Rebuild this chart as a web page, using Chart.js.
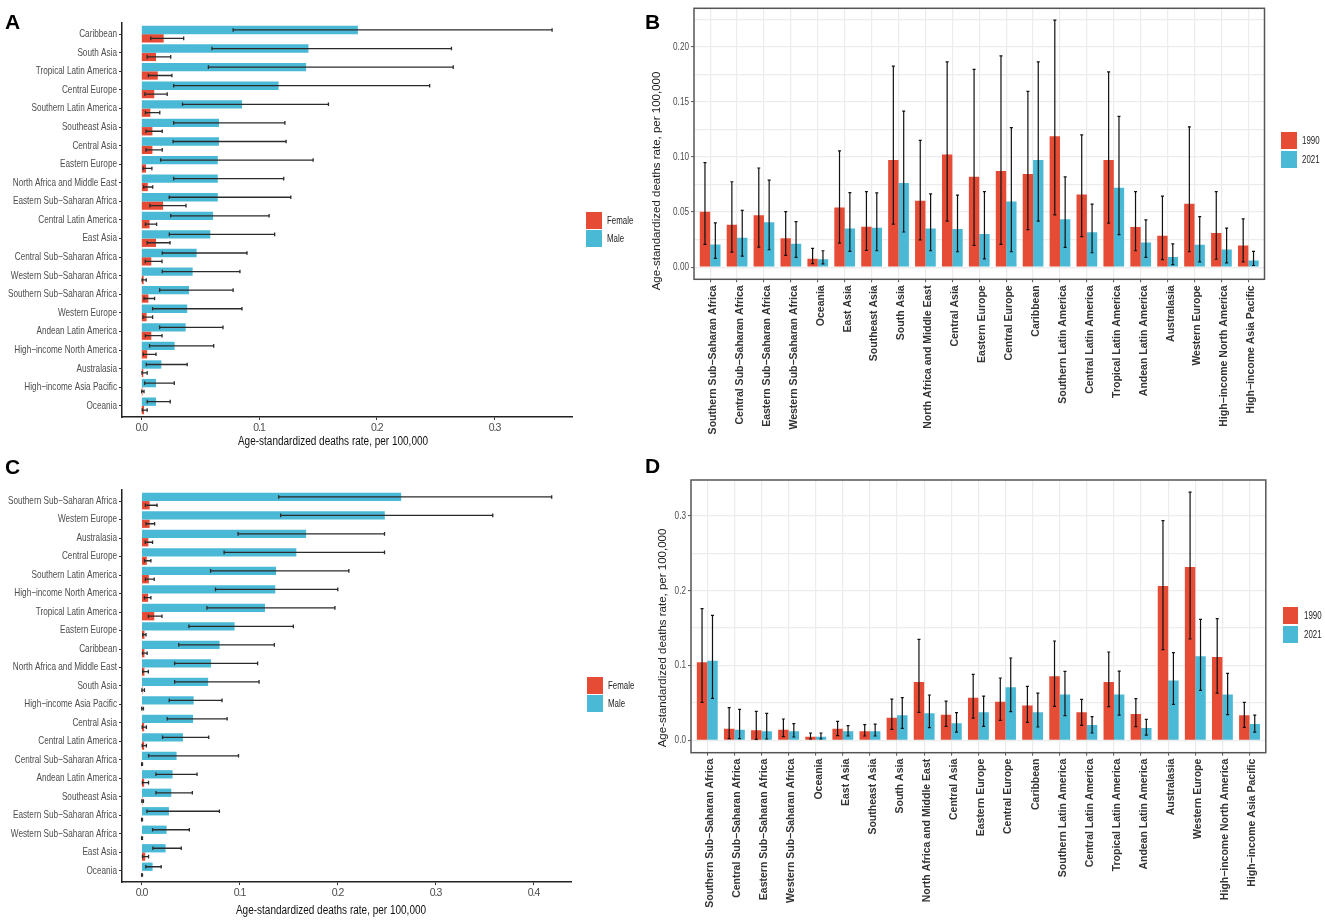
<!DOCTYPE html>
<html>
<head>
<meta charset="utf-8">
<title>Age-standardized deaths rate</title>
<script src="https://cdn.jsdelivr.net/npm/chart.js@4"></script>
<style>
  html, body { margin: 0; padding: 0; background: #fff; }
  #page { position: relative; width: 1325px; height: 921px; overflow: hidden; font-family: 'Liberation Sans', Arial, sans-serif; }
  canvas { position: absolute; }
  .letter { position: absolute; font-weight: 700; font-size: 21px; line-height: 21px; color: #000; }
  .title { position: absolute; white-space: nowrap; color: #111; }
  .title.h { font-size: 12.5px; transform: translate(-50%, -50%) scaleX(0.8); }
  .title.v { font-size: 11.5px; transform: translate(-50%, -50%) rotate(-90deg); color: #222; }
  .swatch { position: absolute; width: 15.5px; height: 16.5px; }
  .key { position: absolute; font-size: 10.5px; color: #222; line-height: 12px; transform: scaleX(0.75); transform-origin: left center; }
</style>
</head>
<body>
<div id="page">
  <canvas id="chartA" style="left:0;top:0"></canvas>
  <canvas id="chartB" style="left:640px;top:0"></canvas>
  <canvas id="chartC" style="left:0;top:470px"></canvas>
  <canvas id="chartD" style="left:640px;top:470px"></canvas>
</div>
<script>
// ---- data ----
const RED = '#E64B35';
const BLUE = '#4AB9D6';

// panel A
const regionsA = ['Caribbean', 'South Asia', 'Tropical Latin America', 'Central Europe', 'Southern Latin America', 'Southeast Asia', 'Central Asia', 'Eastern Europe', 'North Africa and Middle East', 'Eastern Sub-Saharan Africa', 'Central Latin America', 'East Asia', 'Central Sub-Saharan Africa', 'Western Sub-Saharan Africa', 'Southern Sub-Saharan Africa', 'Western Europe', 'Andean Latin America', 'High-income North America', 'Australasia', 'High-income Asia Pacific', 'Oceania'];
const maleA = [.184, .142, .140, .1166, .0856, .066, .066, .065, .065, .065, .061, .0586, .047, .0436, .0405, .039, .0377, .0283, .017, .0125, .0125];
const maleLoA = [.078, .060, .057, .0275, .035, .0275, .027, .0164, .0275, .0237, .025, .0238, .0178, .0178, .0156, .0096, .0156, .007, .0042, .0028, .005];
const maleHiA = [.349, .2635, .265, .245, .159, .122, .123, .146, .121, .127, .1086, .1133, .0898, .0838, .078, .0855, .0694, .0615, .039, .028, .0246];
const femaleA = [.019, .0125, .014, .011, .0077, .0094, .0094, .004, .0055, .0185, .007, .0125, .0085, .002, .006, .0045, .0085, .005, .0017, .001, .0023];
const femaleLoA = [.008, .005, .006, .003, .0035, .004, .004, .0015, .002, .0073, .0035, .005, .0034, .0007, .0023, .0014, .0034, .0017, .0006, .0003, .0008];
const femaleHiA = [.036, .025, .026, .022, .0157, .0178, .0178, .009, .0097, .038, .013, .0244, .0176, .0042, .0113, .0096, .0176, .0125, .005, .0023, .005];

// panel C
const regionsC = ['Southern Sub-Saharan Africa', 'Western Europe', 'Australasia', 'Central Europe', 'Southern Latin America', 'High-income North America', 'Tropical Latin America', 'Eastern Europe', 'Caribbean', 'North Africa and Middle East', 'South Asia', 'High-income Asia Pacific', 'Central Asia', 'Central Latin America', 'Central Sub-Saharan Africa', 'Andean Latin America', 'Southeast Asia', 'Eastern Sub-Saharan Africa', 'Western Sub-Saharan Africa', 'East Asia', 'Oceania'];
const maleC = [.265, .2483, .168, .158, .1373, .1365, .126, .095, .0797, .071, .068, .0532, .0526, .0423, .0358, .0317, .0304, .028, .0256, .0246, .0113];
const maleLoC = [.140, .142, .0985, .0843, .0705, .0755, .0668, .0484, .038, .0338, .0338, .0283, .0263, .0215, .0072, .0147, .0147, .0055, .0113, .0116, .0044];
const maleHiC = [.4186, .3585, .248, .248, .2116, .2003, .1974, .155, .1356, .1185, .12, .0822, .0874, .0686, .099, .0567, .0519, .0795, .0488, .0406, .0201];
const femaleC = [.0083, .0083, .007, .0054, .0075, .0067, .013, .003, .003, .003, .001, .0007, .0027, .0027, .0004, .0027, .001, .0004, .0004, .0038, .0004];
const femaleLoC = [.004, .0046, .0038, .003, .004, .003, .007, .0012, .001, .0012, .0004, .0002, .0007, .0007, .0001, .0009, .0003, .0001, .0001, .001, .0001];
const femaleHiC = [.0159, .0134, .0113, .0096, .013, .0096, .0209, .0046, .0058, .007, .003, .002, .005, .005, .001, .0072, .002, .001, .001, .0072, .001];

// panels B and D share one region order
const regionsBD = ['Southern Sub-Saharan Africa', 'Central Sub-Saharan Africa', 'Eastern Sub-Saharan Africa', 'Western Sub-Saharan Africa', 'Oceania', 'East Asia', 'Southeast Asia', 'South Asia', 'North Africa and Middle East', 'Central Asia', 'Eastern Europe', 'Central Europe', 'Caribbean', 'Southern Latin America', 'Central Latin America', 'Tropical Latin America', 'Andean Latin America', 'Australasia', 'Western Europe', 'High-income North America', 'High-income Asia Pacific'];

const y1990B = [.0504, .0385, .0471, .0262, .0077, .0542, .0367, .0972, .0602, .1022, .082, .0873, .0846, .1189, .0659, .0972, .0364, .0286, .0575, .031, .0197];
const lo1990B = [.0206, .0137, .0182, .0107, .0033, .0218, .0152, .039, .0247, .0417, .0197, .0206, .034, .0474, .0277, .04, .0149, .0069, .014, .0072, .0048];
const hi1990B = [.0948, .0775, .09, .0504, .017, .1055, .0686, .1824, .115, .1863, .1794, .1917, .1595, .2241, .1201, .1773, .0686, .0644, .1273, .0686, .0438];
const y2021B = [.0206, .0268, .0408, .0212, .0072, .0352, .0358, .0763, .0352, .0346, .0301, .0596, .0972, .0435, .0316, .0721, .0224, .0092, .0203, .0161, .006];
const lo2021B = [.008, .0101, .0158, .0089, .003, .0143, .0149, .0319, .0149, .014, .0075, .014, .0417, .0179, .0131, .0295, .0089, .0024, .0048, .0039, .0015];
const hi2021B = [.0402, .0516, .079, .0414, .0149, .0677, .0674, .1416, .0665, .0653, .0686, .1267, .1863, .082, .0572, .1368, .0429, .0212, .0459, .0355, .0143];

const y1990D = [.1042, .0156, .0134, .0142, .0049, .0156, .012, .0303, .0779, .0343, .057, .0516, .0467, .0855, .0374, .0779, .0352, .2061, .2315, .1113, .0334];
const lo1990D = [.0508, .0022, .0013, .0049, .0018, .0062, .0058, .0147, .0374, .0187, .0298, .0267, .024, .0454, .02, .045, .0183, .1211, .1354, .0632, .0174];
const hi1990D = [.1759, .0436, .0387, .0285, .0098, .0254, .0209, .0552, .1349, .0525, .0882, .0833, .0721, .1327, .0548, .118, .0557, .2934, .3317, .1625, .0508];
const y2021D = [.1064, .0142, .012, .012, .0049, .012, .012, .0334, .0361, .0227, .0374, .0708, .0374, .0614, .0205, .0614, .0165, .0801, .1122, .0614, .0218];
const lo2021D = [.0561, .0022, .0018, .0045, .0018, .0058, .0058, .016, .0169, .0111, .0187, .0383, .0178, .0329, .0098, .0338, .0071, .0481, .0668, .0343, .0111];
const hi2021D = [.167, .0414, .0361, .0223, .0098, .0196, .0218, .057, .0606, .037, .0592, .11, .0632, .0922, .0316, .0926, .028, .1171, .1616, .0895, .0338];

const FONT = "'Liberation Sans', sans-serif";

// the figure uses a condensed face that is not installed, so squeeze axis labels sideways
function squeezeLabels(scale, k, anchor) {
  if (scale.squeezed) return;
  scale.squeezed = true;
  const draw = scale.drawLabels;
  scale._computeLabelArea = () => undefined; // its clip box would be squeezed too
  scale.drawLabels = function (area) {
    const c = this.ctx;
    c.save();
    c.translate(anchor, 0);
    c.scale(k, 1);
    c.translate(-anchor, 0);
    draw.call(this, area);
    c.restore();
  };
}
function tightLabels(scale, spacing) {
  if (scale.squeezed) return;
  scale.squeezed = true;
  const draw = scale.drawLabels;
  scale.drawLabels = function (area) {
    const c = this.ctx;
    c.save();
    c.letterSpacing = spacing;
    draw.call(this, area);
    c.restore();
  };
}

// error bars + optional panel frame, drawn from the same scales as the bars
const errorBars = {
  id: 'errorBars',
  afterDatasetsDraw(chart, args, opts) {
    const ctx = chart.ctx;
    const horizontal = chart.options.indexAxis === 'y';
    const vScale = horizontal ? chart.scales.x : chart.scales.y;
    ctx.save();
    ctx.strokeStyle = opts.color;
    ctx.lineWidth = opts.width;
    chart.data.datasets.forEach((ds, d) => {
      chart.getDatasetMeta(d).data.forEach((bar, i) => {
        const a = vScale.getPixelForValue(ds.lower[i]);
        const b = vScale.getPixelForValue(ds.upper[i]);
        const c = horizontal ? bar.y : bar.x;
        const cap = opts.cap;
        ctx.beginPath();
        if (horizontal) {
          ctx.moveTo(a, c); ctx.lineTo(b, c);
          ctx.moveTo(a, c - cap); ctx.lineTo(a, c + cap);
          ctx.moveTo(b, c - cap); ctx.lineTo(b, c + cap);
        } else {
          ctx.moveTo(c, a); ctx.lineTo(c, b);
          ctx.moveTo(c - cap, a); ctx.lineTo(c + cap, a);
          ctx.moveTo(c - cap, b); ctx.lineTo(c + cap, b);
        }
        ctx.stroke();
      });
    });
    if (opts.frame) {
      const area = chart.chartArea;
      ctx.strokeStyle = '#555';
      ctx.lineWidth = 1.5;
      ctx.strokeRect(area.left, area.top, area.right - area.left, area.bottom - area.top);
    }
    ctx.restore();
  }
};

// panels A and C: horizontal male / female bars, axis line left and bottom only
function rankChart(id, box, plot, range, regions, male, maleLo, maleHi, female, femaleLo, femaleHi) {
  const el = document.getElementById(id);
  el.width = box.w; el.height = box.h;
  el.style.width = box.w + 'px'; el.style.height = box.h + 'px';
  return new Chart(el, {
    type: 'bar',
    data: {
      labels: regions.map((r, i) => i),
      datasets: [
        { label: 'Male', data: male, lower: maleLo, upper: maleHi, backgroundColor: BLUE, borderWidth: 0, categoryPercentage: 0.9, barPercentage: 1 },
        { label: 'Female', data: female, lower: femaleLo, upper: femaleHi, backgroundColor: RED, borderWidth: 0, categoryPercentage: 0.9, barPercentage: 1 }
      ]
    },
    options: {
      indexAxis: 'y',
      responsive: false,
      animation: false,
      devicePixelRatio: 1,
      layout: { padding: { left: 0, top: plot.top, right: box.w - plot.right, bottom: 0 } },
      plugins: { legend: { display: false }, tooltip: { enabled: false }, errorBars: { color: '#2b2b2b', width: 1.3, cap: 1.8 } },
      scales: {
        y: {
          type: 'linear', reverse: true, min: -0.6, max: regions.length - 0.4, offset: false,
          afterFit(s) { s.width = plot.left; squeezeLabels(s, 0.78, plot.left - 5); },
          border: { color: '#222', width: 1.5 },
          grid: { display: true, drawOnChartArea: false, offset: false, tickLength: 3, color: '#333' },
          ticks: {
            stepSize: 1, autoSkip: false, includeBounds: false, padding: 2, color: '#4d4d4d',
            font: { family: FONT, size: 10.5 },
            callback: v => regions[v].replace(/-/g, '\u2212')
          }
        },
        x: {
          min: range.min, max: range.max,
          afterFit(s) { s.height = box.h - plot.bottom; tightLabels(s, '-1px'); },
          border: { color: '#222', width: 1.5 },
          grid: { display: true, drawOnChartArea: false, tickLength: 3, color: '#333' },
          ticks: {
            stepSize: 0.1, includeBounds: false, padding: 2, color: '#4d4d4d', maxRotation: 0,
            font: { family: FONT, size: 10.5 },
            callback: v => v.toFixed(1)
          }
        }
      }
    },
    plugins: [errorBars]
  });
}

// panels B and D: vertical 1990 / 2021 bars inside a framed grey grid
function yearChart(id, box, plot, range, gridStep, labelDigits, labelEvery, y1990, lo1990, hi1990, y2021, lo2021, hi2021) {
  const el = document.getElementById(id);
  el.width = box.w; el.height = box.h;
  el.style.width = box.w + 'px'; el.style.height = box.h + 'px';
  const isLabelled = v => Math.round(v / gridStep) % labelEvery === 0;
  return new Chart(el, {
    type: 'bar',
    data: {
      labels: regionsBD.map((r, i) => i),
      datasets: [
        { label: '1990', data: y1990, lower: lo1990, upper: hi1990, backgroundColor: RED, borderWidth: 0, categoryPercentage: 0.77, barPercentage: 1 },
        { label: '2021', data: y2021, lower: lo2021, upper: hi2021, backgroundColor: BLUE, borderWidth: 0, categoryPercentage: 0.77, barPercentage: 1 }
      ]
    },
    options: {
      responsive: false,
      animation: false,
      devicePixelRatio: 1,
      layout: { padding: { left: 0, top: plot.top, right: box.w - plot.right, bottom: 0 } },
      plugins: { legend: { display: false }, tooltip: { enabled: false }, errorBars: { color: '#111', width: 1.2, cap: 1.5, frame: true } },
      scales: {
        x: {
          type: 'linear', min: -0.6, max: regionsBD.length - 0.4, offset: false,
          afterFit(s) { s.height = box.h - plot.bottom; },
          border: { display: false },
          grid: { offset: false, color: '#ececec', lineWidth: 1.2, tickLength: 3, tickColor: '#555', tickWidth: 1 },
          ticks: {
            stepSize: 1, autoSkip: false, includeBounds: false, padding: 3, labelOffset: 3,
            minRotation: 90, maxRotation: 90, color: '#333',
            font: { family: FONT, size: 10.5, weight: '700' },
            callback: v => regionsBD[v].replace(/-/g, '\u2212')
          }
        },
        y: {
          min: range.min, max: range.max,
          afterFit(s) { s.width = plot.left; squeezeLabels(s, 0.78, plot.left - 5); },
          border: { display: false },
          grid: {
            color: '#ececec', lineWidth: 1.2, tickLength: 3, tickWidth: 1,
            tickColor: c => isLabelled(c.tick.value) ? '#555' : 'rgba(0,0,0,0)'
          },
          ticks: {
            stepSize: gridStep, includeBounds: false, padding: 2, autoSkip: false, color: '#4d4d4d',
            font: { family: FONT, size: 10.5 },
            callback: v => isLabelled(v) ? v.toFixed(labelDigits) : ''
          }
        }
      }
    },
    plugins: [errorBars]
  });
}

rankChart('chartA', { w: 640, h: 460 }, { left: 122, top: 23, right: 572, bottom: 417 }, { min: -0.0164, max: 0.3659 },
  regionsA, maleA, maleLoA, maleHiA, femaleA, femaleLoA, femaleHiA);
rankChart('chartC', { w: 640, h: 451 }, { left: 122, top: 20, right: 571, bottom: 412 }, { min: -0.0199, max: 0.4383 },
  regionsC, maleC, maleLoC, maleHiC, femaleC, femaleLoC, femaleHiC);
yearChart('chartB', { w: 685, h: 460 }, { left: 54, top: 4.3, right: 624.5, bottom: 279.3 }, { min: -0.011, max: 0.2349 }, 0.025, 2, 2,
  y1990B, lo1990B, hi1990B, y2021B, lo2021B, hi2021B);
yearChart('chartD', { w: 685, h: 451 }, { left: 51, top: 10, right: 625.8, bottom: 282.7 }, { min: -0.0165, max: 0.3478 }, 0.05, 1, 2,
  y1990D, lo1990D, hi1990D, y2021D, lo2021D, hi2021D);

// panel letters, axis titles and legends
const page = document.getElementById('page');
function addText(cls, text, x, y) {
  const d = document.createElement('div');
  d.className = cls; d.textContent = text;
  d.style.left = x + 'px'; d.style.top = y + 'px';
  page.appendChild(d);
}
function addKey(x, y, color, text) {
  const s = document.createElement('div');
  s.className = 'swatch'; s.style.left = x + 'px'; s.style.top = y + 'px'; s.style.background = color;
  page.appendChild(s);
  addText('key', text, x + 21, y + 2);
}
addText('letter', 'A', 5, 11);
addText('letter', 'B', 645, 11);
addText('letter', 'C', 5, 456);
addText('letter', 'D', 645, 455);
const xTitle = 'Age-standardized deaths rate, per 100,000';
addText('title h', xTitle, 333, 441);
addText('title h', xTitle, 331, 910);
addText('title v', xTitle, 656, 181);
addText('title v', xTitle, 662, 638);
addKey(586, 212, RED, 'Female'); addKey(586, 230, BLUE, 'Male');
addKey(587, 677, RED, 'Female'); addKey(587, 695, BLUE, 'Male');
addKey(1281, 132, RED, '1990'); addKey(1281, 151, BLUE, '2021');
addKey(1282.5, 607, RED, '1990'); addKey(1282.5, 626, BLUE, '2021');
</script>
</body>
</html>
